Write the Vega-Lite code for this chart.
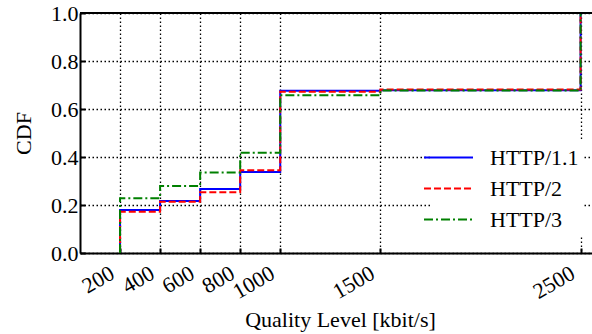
{
  "$schema": "https://vega.github.io/schema/vega-lite/v6.json",
  "width": 512,
  "height": 240,
  "autosize": {"type": "none"},
  "padding": {"left": 80, "top": 13, "right": 0, "bottom": 81},
  "background": "white",
  "config": {
    "view": {"stroke": null},
    "font": "Liberation Serif, Times New Roman, serif",
    "axis": {
      "labelFont": "Liberation Serif, Times New Roman, serif",
      "labelFontSize": 22,
      "labelColor": "black",
      "labelOverlap": false,
      "titleFont": "Liberation Serif, Times New Roman, serif",
      "titleFontSize": 22,
      "titleFontWeight": "normal",
      "titleColor": "black",
      "domainColor": "black",
      "domainWidth": 2,
      "tickColor": "black",
      "tickWidth": 2,
      "tickSize": -5,
      "grid": true,
      "gridColor": "black",
      "gridDash": [1.5, 2.5],
      "gridWidth": 1.3,
      "gridOpacity": 1
    }
  },
  "data": {
    "values": [
      {"protocol": "HTTP/1.1", "i": 0, "q": 200, "cdf": 0},
      {"protocol": "HTTP/1.1", "i": 1, "q": 200, "cdf": 0.179},
      {"protocol": "HTTP/1.1", "i": 2, "q": 400, "cdf": 0.217},
      {"protocol": "HTTP/1.1", "i": 3, "q": 600, "cdf": 0.267},
      {"protocol": "HTTP/1.1", "i": 4, "q": 800, "cdf": 0.337},
      {"protocol": "HTTP/1.1", "i": 5, "q": 1000, "cdf": 0.676},
      {"protocol": "HTTP/1.1", "i": 6, "q": 1500, "cdf": 0.678},
      {"protocol": "HTTP/1.1", "i": 7, "q": 2500, "cdf": 1.0},
      {"protocol": "HTTP/2", "i": 0, "q": 200, "cdf": 0},
      {"protocol": "HTTP/2", "i": 1, "q": 200, "cdf": 0.172},
      {"protocol": "HTTP/2", "i": 2, "q": 400, "cdf": 0.214},
      {"protocol": "HTTP/2", "i": 3, "q": 600, "cdf": 0.253},
      {"protocol": "HTTP/2", "i": 4, "q": 800, "cdf": 0.345},
      {"protocol": "HTTP/2", "i": 5, "q": 1000, "cdf": 0.672},
      {"protocol": "HTTP/2", "i": 6, "q": 1500, "cdf": 0.681},
      {"protocol": "HTTP/2", "i": 7, "q": 2500, "cdf": 1.0},
      {"protocol": "HTTP/3", "i": 0, "q": 200, "cdf": 0},
      {"protocol": "HTTP/3", "i": 1, "q": 200, "cdf": 0.228},
      {"protocol": "HTTP/3", "i": 2, "q": 400, "cdf": 0.279},
      {"protocol": "HTTP/3", "i": 3, "q": 600, "cdf": 0.335},
      {"protocol": "HTTP/3", "i": 4, "q": 800, "cdf": 0.418},
      {"protocol": "HTTP/3", "i": 5, "q": 1000, "cdf": 0.657},
      {"protocol": "HTTP/3", "i": 6, "q": 1500, "cdf": 0.677},
      {"protocol": "HTTP/3", "i": 7, "q": 2500, "cdf": 1.0}
    ]
  },
  "layer": [
    {
      "mark": {"type": "line", "interpolate": "step-after", "strokeWidth": 2, "clip": true},
      "encoding": {
        "x": {
          "field": "q",
          "type": "quantitative",
          "scale": {"domain": [0, 2557], "nice": false, "zero": false},
          "axis": {
            "values": [200, 400, 600, 800, 1000, 1500, 2500],
            "format": "d",
            "labelAngle": -30,
            "labelAlign": "right",
            "labelBaseline": "middle",
            "labelPadding": 23,
            "labelOffset": -8,
            "title": "Quality Level [kbit/s]",
            "titleX": 260,
            "titleY": 73,
            "titleBaseline": "alphabetic",
            "titleAlign": "center"
          }
        },
        "y": {
          "field": "cdf",
          "type": "quantitative",
          "scale": {"domain": [0, 1], "nice": false},
          "axis": {
            "values": [0, 0.2, 0.4, 0.6, 0.8, 1.0],
            "format": ".1f",
            "labelPadding": 7,
            "title": "CDF",
            "titleX": -57,
            "titleY": 120,
            "titleAngle": -90,
            "titleAlign": "center",
            "titleBaseline": "middle"
          }
        },
        "color": {
          "field": "protocol",
          "type": "nominal",
          "scale": {"domain": ["HTTP/1.1", "HTTP/2", "HTTP/3"], "range": ["#0000ff", "#ff0000", "#008000"]},
          "legend": {
            "orient": "none",
            "legendX": 350,
            "legendY": 126,
            "title": null,
            "symbolType": "M-2,0H2",
            "symbolSize": 600,
            "symbolStrokeWidth": 2,
            "labelFont": "Liberation Serif, Times New Roman, serif",
            "labelFontSize": 22,
            "labelColor": "black",
            "labelOffset": 28,
            "rowPadding": 6,
            "fillColor": "white",
            "padding": 5
          }
        },
        "strokeDash": {
          "field": "protocol",
          "type": "nominal",
          "scale": {"domain": ["HTTP/1.1", "HTTP/2", "HTTP/3"], "range": [[1, 0], [7, 3], [9, 3, 2, 3]]}
        },
        "order": {"field": "i", "type": "quantitative"}
      }
    },
    {
      "mark": {"type": "rule", "color": "black", "strokeWidth": 2},
      "encoding": {"y": {"datum": 1}}
    }
  ]
}
